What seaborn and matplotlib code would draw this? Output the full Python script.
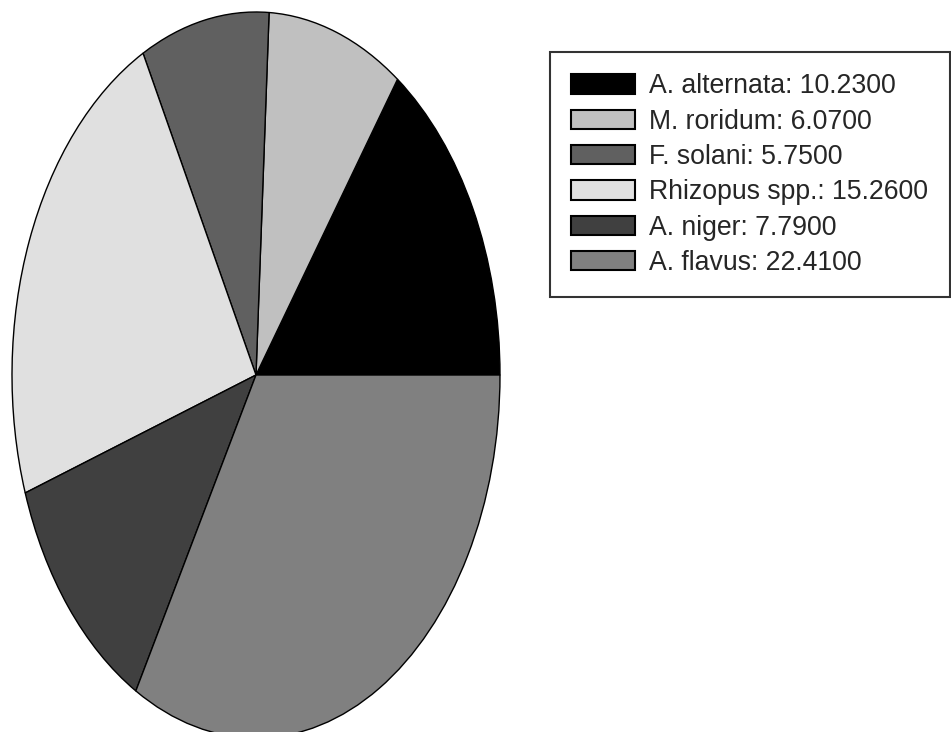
import matplotlib
matplotlib.use("Agg")
import matplotlib.pyplot as plt
import seaborn as sns

species = ['A. alternata', 'M. roridum', 'F. solani', 'Rhizopus spp.', 'A. niger', 'A. flavus']
values = [10.23, 6.07, 5.75, 15.26, 7.79, 22.41]
colors = ['#000000', '#c0c0c0', '#606060', '#e0e0e0', '#404040', '#808080']

sns.set_theme(style='white')
plt.rcParams['font.family'] = ['Liberation Sans', 'DejaVu Sans']

W, H = 951, 732
fig = plt.figure(figsize=(W / 100, H / 100), dpi=100)
ax = fig.add_axes([0, 0, 1, 1])

wedges, _ = ax.pie(values, colors=colors, startangle=0, counterclock=True,
                   wedgeprops=dict(edgecolor='black', linewidth=1.0))

# stretch the pie into the ellipse of the reference
cx, cy, rx, ry = 256, 375, 244, 363
ax.set_aspect('auto')
ax.set_xlim(-cx / rx, (W - cx) / rx)
ax.set_ylim(-(H - cy) / ry, cy / ry)
ax.axis('off')

labels = [f'{s}: {v:.4f}' for s, v in zip(species, values)]
leg = fig.legend(wedges, labels, loc='upper left',
                 bbox_to_anchor=(550 / W, 1 - 52 / H), borderaxespad=0,
                 fontsize=19.2, frameon=True, fancybox=False, shadow=False,
                 edgecolor='black', handlelength=2.4, handleheight=0.75,
                 handletextpad=0.52, labelspacing=0.35, borderpad=0.8)
leg.get_frame().set_linewidth(1.5)
for p in leg.get_patches():
    p.set_edgecolor('black')
    p.set_linewidth(1.5)

fig.savefig('out.png', dpi=100)
